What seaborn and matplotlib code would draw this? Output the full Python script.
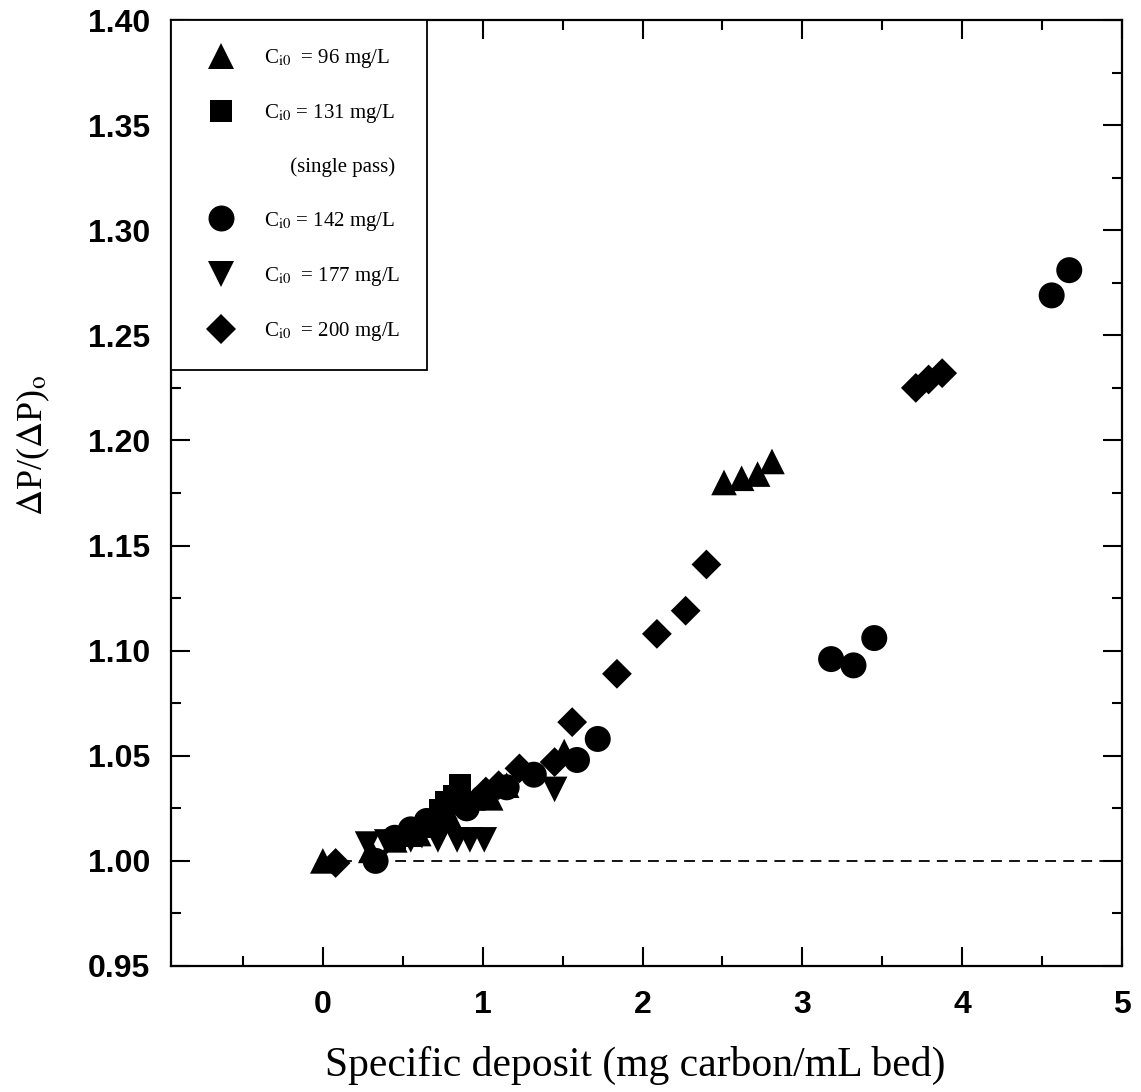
import numpy as np
import pandas as pd
import matplotlib
matplotlib.use("Agg")
import matplotlib.pyplot as plt
from matplotlib.lines import Line2D
from matplotlib.ticker import MultipleLocator, FormatStrFormatter
import seaborn as sns

# ---- data ----
x_96 = [0.00, 0.30, 0.45, 0.60, 0.80, 1.05, 1.15, 1.51, 2.51, 2.62, 2.72, 2.81]
y_96 = [1.000, 1.005, 1.010, 1.013, 1.020, 1.030, 1.036, 1.052, 1.180, 1.182, 1.184, 1.190]

x_131 = [0.45, 0.55, 0.65, 0.73, 0.77, 0.82, 0.86]
y_131 = [1.010, 1.012, 1.016, 1.024, 1.028, 1.031, 1.036]

x_142 = [0.33, 0.45, 0.55, 0.65, 0.75, 0.90, 1.00, 1.15, 1.32, 1.59, 1.72,
         3.18, 3.32, 3.45, 4.56, 4.67]
y_142 = [1.000, 1.011, 1.015, 1.019, 1.022, 1.025, 1.030, 1.035, 1.041, 1.048, 1.058,
         1.096, 1.093, 1.106, 1.269, 1.281]

x_177 = [0.28, 0.40, 0.55, 0.62, 0.72, 0.84, 0.92, 1.01, 1.45]
y_177 = [1.008, 1.009, 1.010, 1.012, 1.010, 1.010, 1.010, 1.010, 1.034]

x_200 = [0.08, 0.60, 0.75, 1.02, 1.10, 1.23, 1.45, 1.56, 1.84, 2.09, 2.27, 2.40,
         3.71, 3.79, 3.875]
y_200 = [0.999, 1.015, 1.020, 1.033, 1.036, 1.044, 1.047, 1.066, 1.089, 1.108, 1.119, 1.141,
         1.225, 1.229, 1.232]

series_names = ["96", "131", "142", "177", "200"]
legend_labels = [r"C$_{\mathrm{i0}}$  = 96 mg/L",
                 r"C$_{\mathrm{i0}}$ = 131 mg/L",
                 r"C$_{\mathrm{i0}}$ = 142 mg/L",
                 r"C$_{\mathrm{i0}}$  = 177 mg/L",
                 r"C$_{\mathrm{i0}}$  = 200 mg/L"]
second_line = "(single pass)"

xs = [x_96, x_131, x_142, x_177, x_200]
ys = [y_96, y_131, y_142, y_177, y_200]

df = pd.concat([pd.DataFrame({"x": a, "y": b, "series": n})
                for a, b, n in zip(xs, ys, series_names)], ignore_index=True)

markers = {"96": "^", "131": "s", "142": "o", "177": "v", "200": "D"}
sizes = {"96": 340, "131": 250, "142": 350, "177": 340, "200": 230}

# ---- style ----
sns.set_style("ticks")
plt.rcParams["mathtext.fontset"] = "stix"
plt.rcParams["font.family"] = ["Liberation Serif", "DejaVu Serif"]
for k in ["text.color", "axes.labelcolor", "xtick.color", "ytick.color", "axes.edgecolor"]:
    plt.rcParams[k] = "black"

fig = plt.figure(figsize=(11.41, 10.92), dpi=100)
ax = fig.add_axes([171/1141, 1 - 966/1092, (1122-171)/1141, (966-20)/1092])

ax.plot([0, 5], [1.0, 1.0], color="black", lw=1.3, ls=(0, (6, 4)), zorder=1)

sns.scatterplot(data=df, x="x", y="y", style="series", markers=markers,
                size="series", sizes=sizes, color="black", linewidth=0,
                legend=False, ax=ax, zorder=3)

ax.set_xlim(-0.95, 5.0)
ax.set_ylim(0.95, 1.40)
ax.xaxis.set_major_locator(MultipleLocator(1))
ax.xaxis.set_minor_locator(MultipleLocator(0.5))
ax.yaxis.set_major_locator(MultipleLocator(0.05))
ax.yaxis.set_minor_locator(MultipleLocator(0.025))
ax.yaxis.set_major_formatter(FormatStrFormatter("%.2f"))
ax.xaxis.set_major_formatter(FormatStrFormatter("%d"))

ax.tick_params(which="both", direction="in", top=True, right=True, color="black")
ax.tick_params(which="major", length=13.5, width=1.5)
ax.tick_params(which="minor", length=7, width=1.5)
ax.tick_params(axis="x", which="major", pad=17)
ax.tick_params(axis="y", which="major", pad=15)
for lab in ax.get_xticklabels() + ax.get_yticklabels():
    lab.set_fontfamily("Liberation Sans")
    lab.set_fontweight("bold")
    lab.set_fontsize(23)
    lab.set_color("black")

for sp in ax.spines.values():
    sp.set_linewidth(1.6)
    sp.set_color("black")

ax.set_xlabel("Specific deposit (mg carbon/mL bed)", fontsize=30,
              fontfamily="Liberation Serif", color="black")
ax.set_ylabel(r"$\Delta$P/($\Delta$P)$_{\mathrm{o}}$", fontsize=26,
              fontfamily="Liberation Serif", color="black")
ax.xaxis.set_label_coords(0.488, -0.085)
ax.yaxis.set_label_coords(-0.125, 0.55)

# ---- legend ----
handles = []
labels = []
for n, lab in zip(series_names, legend_labels):
    handles.append(Line2D([], [], ls="", marker=markers[n], color="black",
                          markersize=np.sqrt(sizes[n]), markeredgewidth=0))
    labels.append(lab)
    if n == "131":
        handles.append(Line2D([], [], ls="", marker=None))
        labels.append("     " + second_line)

leg = ax.legend(handles, labels, loc="upper left", bbox_to_anchor=(0, 1),
                borderaxespad=0, frameon=True, fancybox=False, edgecolor="black",
                framealpha=1, prop={"family": "Liberation Serif", "size": 15},
                handlelength=2.2, handletextpad=0.95, borderpad=1.3,
                labelspacing=1.55)
leg.get_frame().set_linewidth(1.3)
for t in leg.get_texts():
    t.set_color("black")

fig.savefig("out.png", dpi=100)
